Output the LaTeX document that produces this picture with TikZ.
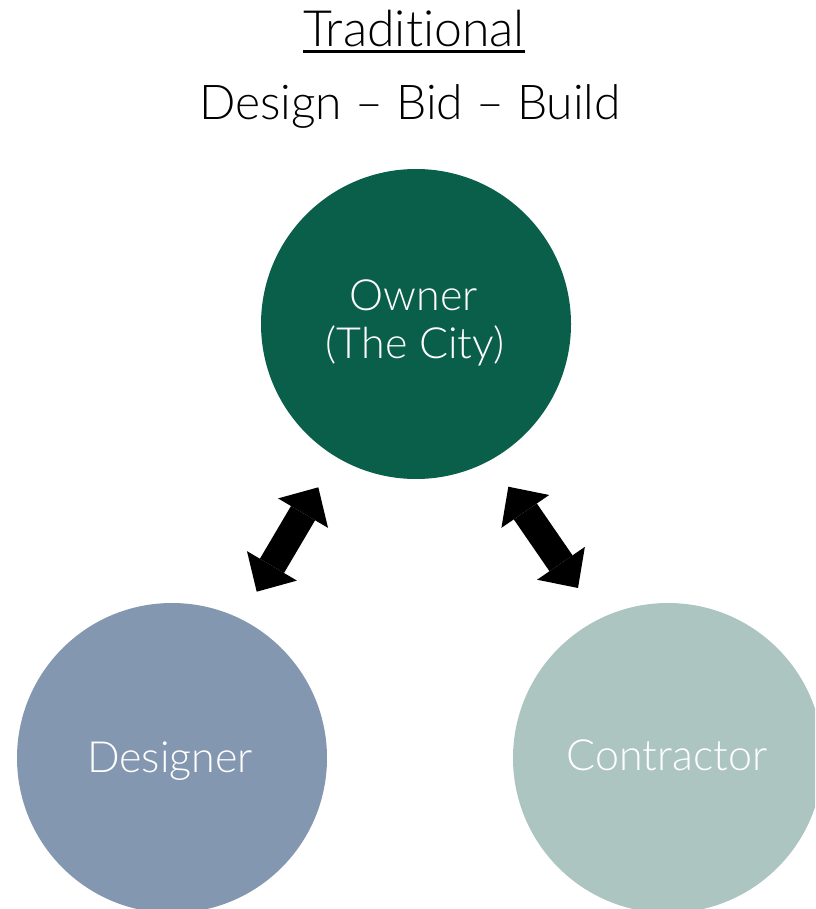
\documentclass[tikz,border=0pt]{standalone}
\usepackage{fontspec}
\setmainfont{Lato Light}[Ligatures=NoCommon]
\usetikzlibrary{arrows.meta}
\definecolor{ownerc}{RGB}{10,95,75}
\definecolor{designc}{RGB}{132,151,176}
\definecolor{contrc}{RGB}{172,197,193}
\begin{document}
\begin{tikzpicture}[x=1pt,y=-1pt,
  circ/.style={circle, minimum size=310pt, inner sep=0pt, draw=none},
  lbl/.style={text=white, font=\fontsize{43}{52}\selectfont, inner sep=0pt, anchor=base},
  ttl/.style={font=\fontsize{48}{58}\selectfont, inner sep=0pt, anchor=base},
  dbl/.style={line width=28pt,
    {Triangle[width=58pt,length=30pt,line width=0pt]}-{Triangle[width=58pt,length=30pt,line width=0pt]}}]
\path[use as bounding box] (0,0) rectangle (815,909);
\clip (0,0) rectangle (815,909);
\node[circ, fill=ownerc] (owner) at (416,324) {};
\node[circ, fill=designc] (designer) at (172,758) {};
\node[circ, fill=contrc] (contractor) at (668,758) {};
\node[lbl] (ownertxt) at (414,310) {Owner};
\node[lbl] (citytxt) at (415,358) {(The City)};
\node[lbl] (designtxt) at (170,772) {Designer};
\node[lbl] (contrtxt) at (667,770) {Contractor};
\node[ttl, font=\fontsize{50}{60}\selectfont] (title) at (414,47) {Traditional};
\draw[line width=2.7pt] ([yshift=-4.7pt]title.base west) -- ([yshift=-4.7pt]title.base east);
\node[ttl] (subtitle) at (410,120) {Design – Bid – Build};
\coordinate (la) at (256.7,591.7);
\coordinate (lb) at (318.3,487.3);
\coordinate (ra) at (508.3,486.7);
\coordinate (rb) at (578,588);
\draw[dbl] (la) -- (lb);
\draw[dbl] (ra) -- (rb);
\end{tikzpicture}
\end{document}
